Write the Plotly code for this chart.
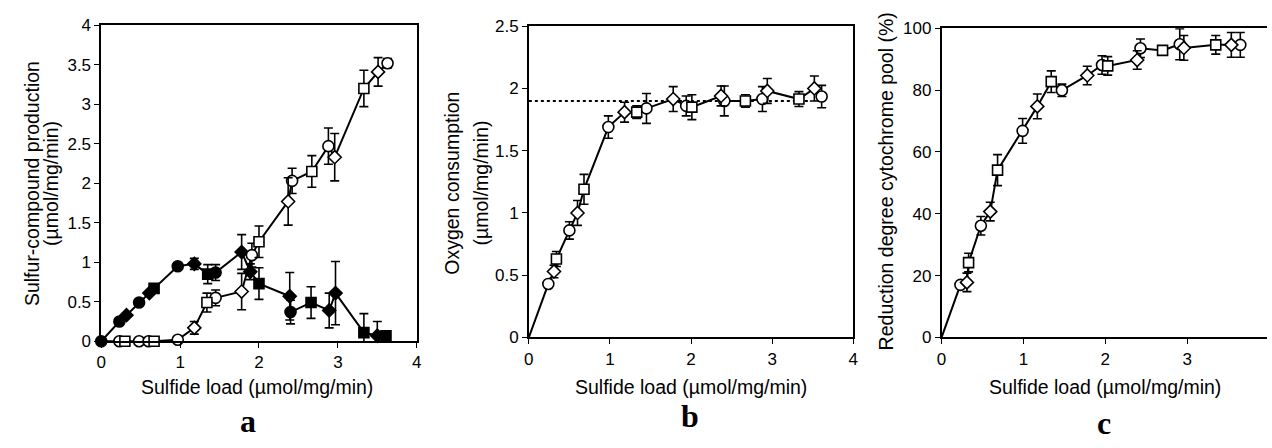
import plotly.graph_objects as go

# ---------------- data ----------------
# Panel a: filled symbols (first curve) and open symbols (second curve)
a_fill_x = [0, 0.23, 0.32, 0.48, 0.61, 0.67, 0.97, 1.18, 1.35, 1.45, 1.78, 1.89, 2.00, 2.39, 2.40, 2.66, 2.89, 2.97, 3.33, 3.50, 3.61]
a_fill_y = [0, 0.25, 0.33, 0.49, 0.61, 0.67, 0.95, 0.98, 0.85, 0.87, 1.13, 0.88, 0.73, 0.57, 0.37, 0.49, 0.39, 0.61, 0.11, 0.07, 0.07]
a_fill_e = [0, 0, 0, 0, 0, 0, 0, 0.07, 0.12, 0.10, 0.22, 0.10, 0.20, 0.30, 0.15, 0.20, 0.22, 0.40, 0.24, 0.18, 0.06]
a_fill_s = ["o", "o", "d", "o", "d", "s", "o", "d", "s", "o", "d", "d", "s", "d", "o", "s", "d", "d", "s", "d", "s"]

a_open_x = [0, 0.23, 0.30, 0.48, 0.60, 0.67, 0.97, 1.18, 1.34, 1.45, 1.78, 1.91, 2.00, 2.37, 2.42, 2.67, 2.88, 2.96, 3.33, 3.51, 3.63]
a_open_y = [0, 0, 0, 0, 0, 0, 0.02, 0.17, 0.49, 0.55, 0.63, 1.09, 1.26, 1.77, 2.03, 2.15, 2.47, 2.33, 3.20, 3.41, 3.52]
a_open_e = [0, 0, 0, 0, 0, 0, 0, 0.08, 0.12, 0.10, 0.23, 0.15, 0.20, 0.30, 0.16, 0.20, 0.23, 0.30, 0.23, 0.18, 0.06]
a_open_s = ["", "o", "s", "o", "o", "s", "o", "d", "s", "o", "d", "o", "s", "d", "o", "s", "o", "d", "s", "d", "o"]

# Panel b: oxygen consumption
b_x = [0, 0.24, 0.31, 0.34, 0.50, 0.60, 0.68, 0.98, 1.18, 1.33, 1.45, 1.78, 1.94, 2.01, 2.37, 2.41, 2.67, 2.88, 2.94, 3.33, 3.52, 3.61]
b_y = [0, 0.43, 0.53, 0.63, 0.86, 1.00, 1.19, 1.69, 1.81, 1.81, 1.84, 1.915, 1.86, 1.85, 1.94, 1.90, 1.90, 1.915, 1.98, 1.915, 2.00, 1.935]
b_e = [0, 0, 0.05, 0.06, 0.07, 0.10, 0.12, 0.09, 0.08, 0.05, 0.12, 0.10, 0.08, 0.10, 0.08, 0.12, 0.05, 0.10, 0.10, 0.06, 0.10, 0.09]
b_s = ["", "o", "d", "s", "o", "d", "s", "o", "d", "s", "o", "d", "o", "s", "d", "o", "s", "o", "d", "s", "d", "o"]
b_plateau_x = [0, 3.45]
b_plateau_y = [1.9, 1.9]

# Panel c: reduction degree cytochrome pool
c_x = [0, 0.23, 0.31, 0.33, 0.48, 0.595, 0.684, 0.99, 1.17, 1.34, 1.47, 1.78, 1.96, 2.03, 2.39, 2.43, 2.70, 2.91, 2.96, 3.35, 3.54, 3.65]
c_y = [0, 17.0, 17.8, 24.2, 36.1, 40.7, 54.1, 66.8, 74.7, 82.7, 79.9, 84.7, 88.1, 87.8, 89.7, 93.5, 92.8, 94.8, 93.6, 94.6, 94.6, 94.6]
c_e = [0, 0, 3, 3, 3, 3, 5, 4, 4, 3.5, 2, 3, 3, 3, 3, 3, 1.5, 5, 4, 3, 4, 4]
c_s = ["", "o", "d", "s", "o", "d", "s", "o", "d", "s", "o", "d", "o", "s", "d", "o", "s", "o", "d", "s", "d", "o"]

x_title = "Sulfide load (µmol/mg/min)"
a_ytitle = ["Sulfur-compound production", "(µmol/mg/min)"]
b_ytitle = ["Oxygen consumption", "(µmol/mg/min)"]
c_ytitle = "Reduction degree cytochrome pool (%)"
panel_letters = ["a", "b", "c"]

# ---------------- figure ----------------
W, H = 1272, 448
FONT = "Liberation Sans, Arial, sans-serif"
SYM = {"o": ("circle", 11), "s": ("square", 10), "d": ("diamond", 10)}

fig = go.Figure()


def add_series(xs, ys, es, ss, xa, ya, filled):
    fig.add_trace(go.Scatter(x=xs, y=ys, mode="lines", xaxis=xa, yaxis=ya,
                             line=dict(color="black", width=2), showlegend=False,
                             hoverinfo="skip", cliponaxis=False))
    for code, (sym, size) in SYM.items():
        idx = [i for i, s in enumerate(ss) if s == code]
        if not idx:
            continue
        fig.add_trace(go.Scatter(
            x=[xs[i] for i in idx], y=[ys[i] for i in idx], mode="markers",
            xaxis=xa, yaxis=ya, showlegend=False, cliponaxis=False,
            marker=dict(symbol=sym, size=size,
                        color="black" if filled else "white",
                        line=dict(color="black", width=1.6)),
            error_y=dict(type="data", array=[es[i] for i in idx], visible=True,
                         color="black", thickness=1.6, width=4.5)))


add_series(a_fill_x, a_fill_y, a_fill_e, a_fill_s, "x", "y", True)
add_series(a_open_x, a_open_y, a_open_e, a_open_s, "x", "y", False)

fig.add_trace(go.Scatter(x=b_plateau_x, y=b_plateau_y, mode="lines", xaxis="x2", yaxis="y2",
                         line=dict(color="black", width=2, dash="dot"), showlegend=False,
                         hoverinfo="skip"))
add_series(b_x, b_y, b_e, b_s, "x2", "y2", False)
add_series(c_x, c_y, c_e, c_s, "x3", "y3", False)


def px_x(p):
    return p / W


def px_y(p):
    return 1 - p / H


axis_common = dict(showline=True, linecolor="black", linewidth=1.5, ticks="outside",
                   ticklen=5, tickwidth=1.2, tickcolor="black", showgrid=False,
                   zeroline=False, tickfont=dict(family=FONT, size=17, color="black"))

fig.update_layout(
    width=W, height=H, margin=dict(l=0, r=0, t=0, b=0),
    paper_bgcolor="white", plot_bgcolor="white",
    xaxis=dict(axis_common, domain=[px_x(97), px_x(415)], range=[0, 4], dtick=1, mirror=True, anchor="y"),
    yaxis=dict(axis_common, domain=[px_y(347), px_y(17)], range=[0, 4], dtick=0.5, mirror=True, anchor="x"),
    xaxis2=dict(axis_common, domain=[px_x(528), px_x(855)], range=[0, 4], dtick=1, mirror=True, anchor="y2"),
    yaxis2=dict(axis_common, domain=[px_y(343), px_y(18)], range=[0, 2.5], dtick=0.5, mirror=True, anchor="x2"),
    xaxis3=dict(axis_common, domain=[px_x(944), 1.0], range=[0, 3.976], dtick=1, mirror=True, anchor="y3"),
    yaxis3=dict(axis_common, domain=[px_y(343), px_y(20)], range=[0, 100], dtick=20, mirror=False, anchor="x3"),
)

ann = []
tfont = dict(family=FONT, size=19.5, color="black")
# x titles
for cx in (254, 691, 1109):
    ann.append(dict(text=x_title, x=px_x(cx), y=px_y(395), xref="paper", yref="paper",
                    showarrow=False, font=tfont, xanchor="center", yanchor="middle"))
# y titles
ann.append(dict(text=a_ytitle[0], x=px_x(27), y=px_y(182), textangle=-90, xref="paper", yref="paper",
                showarrow=False, font=tfont, xanchor="center", yanchor="middle"))
ann.append(dict(text=a_ytitle[1], x=px_x(47), y=px_y(182), textangle=-90, xref="paper", yref="paper",
                showarrow=False, font=tfont, xanchor="center", yanchor="middle"))
ann.append(dict(text=b_ytitle[0], x=px_x(451), y=px_y(182), textangle=-90, xref="paper", yref="paper",
                showarrow=False, font=tfont, xanchor="center", yanchor="middle"))
ann.append(dict(text=b_ytitle[1], x=px_x(480), y=px_y(182), textangle=-90, xref="paper", yref="paper",
                showarrow=False, font=tfont, xanchor="center", yanchor="middle"))
ann.append(dict(text=c_ytitle, x=px_x(888), y=px_y(180), textangle=-90, xref="paper", yref="paper",
                showarrow=False, font=tfont, xanchor="center", yanchor="middle"))
# panel letters
lfont = dict(family="Liberation Serif, Times New Roman, serif", size=32, color="black")
for (lx, ly), letter in zip([(245, 430), (690, 425), (1108, 432)], panel_letters):
    ann.append(dict(text="<b>%s</b>" % letter, x=px_x(lx), y=px_y(ly), xref="paper", yref="paper",
                    showarrow=False, font=lfont, xanchor="center", yanchor="middle"))

fig.update_layout(annotations=ann)
fig.write_html("out.html", config={"displayModeBar": False},
               post_script="document.body.style.margin='0px';document.body.style.overflow='hidden';")
